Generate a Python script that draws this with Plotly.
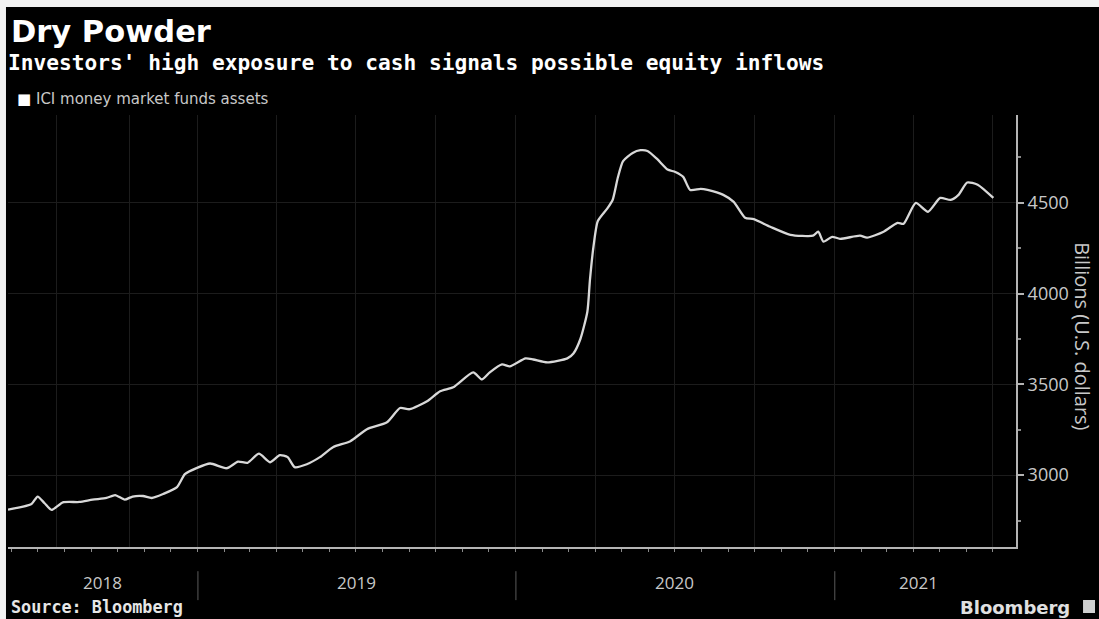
import plotly.graph_objects as go

# ICI money market funds assets, billions of U.S. dollars (weekly readings)
dates = [
    "2018-05-28", "2018-06-24", "2018-07-01", "2018-07-09", "2018-07-17", "2018-07-30",
    "2018-08-18", "2018-09-02", "2018-09-18", "2018-09-28", "2018-10-09", "2018-10-18",
    "2018-10-30", "2018-11-09", "2018-11-22", "2018-12-08", "2018-12-17", "2018-12-31",
    "2019-01-15", "2019-02-03", "2019-02-16", "2019-02-27", "2019-03-12", "2019-03-25",
    "2019-04-05", "2019-04-14", "2019-04-22", "2019-05-06", "2019-05-21", "2019-06-05",
    "2019-06-25", "2019-07-14", "2019-08-06", "2019-08-21", "2019-09-01", "2019-09-21",
    "2019-10-06", "2019-10-21", "2019-11-13", "2019-11-23", "2019-12-02", "2019-12-16",
    "2019-12-25", "2020-01-12", "2020-01-21", "2020-02-06", "2020-02-29", "2020-03-07",
    "2020-03-15", "2020-03-23", "2020-03-26", "2020-03-30", "2020-04-04", "2020-04-15",
    "2020-04-21", "2020-04-27", "2020-05-03", "2020-05-14", "2020-05-23", "2020-05-31",
    "2020-06-11", "2020-06-23", "2020-07-02", "2020-07-11", "2020-07-19", "2020-07-31",
    "2020-08-08", "2020-08-26", "2020-09-07", "2020-09-20", "2020-09-30", "2020-10-19",
    "2020-11-11", "2020-12-07", "2020-12-13", "2020-12-19", "2020-12-29", "2021-01-07",
    "2021-01-30", "2021-02-07", "2021-02-26", "2021-03-14", "2021-03-21", "2021-04-04",
    "2021-04-18", "2021-05-02", "2021-05-14", "2021-05-23", "2021-06-02", "2021-06-14",
    "2021-07-02",
]
assets = [
    2810, 2841, 2882, 2845, 2808, 2850,
    2852, 2865, 2874, 2890, 2865, 2882,
    2885, 2874, 2896, 2934, 3005, 3040,
    3064, 3038, 3074, 3068, 3118, 3071,
    3110, 3099, 3044, 3060, 3099, 3154,
    3187, 3253, 3291, 3370, 3363, 3407,
    3462, 3484, 3566, 3527, 3566, 3610,
    3599, 3643, 3637, 3621, 3643, 3670,
    3750, 3900, 4077, 4258, 4400, 4470,
    4516, 4640, 4730, 4775, 4790, 4786,
    4742, 4684, 4670, 4643, 4571, 4577,
    4571, 4544, 4505, 4418, 4410, 4368,
    4324, 4319, 4341, 4286, 4313, 4302,
    4319, 4308, 4341, 4390, 4385, 4500,
    4451, 4527, 4516, 4544, 4612, 4600,
    4527,
]

y_ticks = [3000, 3500, 4000, 4500]
y_tick_text = ["3000", "3500", "4000", "4500"]
grid_dates = [
    "2018-07-23", "2018-10-15", "2019-01-01", "2019-04-01", "2019-07-01", "2019-10-01",
    "2020-01-01", "2020-04-01", "2020-07-01", "2020-10-01", "2021-01-01", "2021-04-01",
    "2021-07-01",
]
year_labels = ["2018", "2019", "2020", "2021"]
year_label_dates = ["2018-09-14", "2019-07-02", "2020-07-01", "2021-04-07"]
year_breaks = ["2019-01-01", "2020-01-01", "2021-01-01"]

BG = "#000000"
LINE = "#d8d8d8"
AXIS = "#b4b4b4"
TEXT = "#c8c8c8"
GRID = "#1c1c1c"

fig = go.Figure()
fig.add_trace(go.Scatter(
    x=dates, y=assets, mode="lines",
    line=dict(color=LINE, width=2.3, shape="spline", smoothing=0.6),
    name="ICI money market funds assets", showlegend=False,
    hoverinfo="x+y",
))

fig.update_layout(
    width=1099, height=619,
    margin=dict(l=8, r=83, t=115, b=72),
    paper_bgcolor=BG, plot_bgcolor=BG,
    showlegend=False,
    xaxis=dict(
        type="date",
        range=["2018-05-28", "2021-07-28"],
        tickmode="array", tickvals=grid_dates, showticklabels=False,
        ticks="", showgrid=True, gridcolor=GRID, gridwidth=1,
        showline=True, linecolor=AXIS, linewidth=1.5,
        zeroline=False,
        minor=dict(ticks="outside", ticklen=3, tickwidth=1, tickcolor="#8a8a8a",
                   dtick="M1", tick0="2018-06-01", showgrid=False),
    ),
    yaxis=dict(
        side="right",
        range=[2604, 4984],
        tickmode="array", tickvals=y_ticks, ticktext=y_tick_text,
        tickfont=dict(family="Open Sans", size=18, color=TEXT),
        ticks="outside", ticklen=6, tickwidth=2, tickcolor=AXIS,
        showgrid=True, gridcolor=GRID, gridwidth=1,
        showline=True, linecolor=AXIS, linewidth=2,
        zeroline=False,
        minor=dict(ticks="outside", ticklen=3, tickwidth=1.5, tickcolor="#8a8a8a",
                   tickvals=[2750, 3250, 3750, 4250, 4750], showgrid=False),
    ),
)

annotations = [
    dict(text="Dry Powder", xref="paper", yref="paper", x=0.001, y=1.194,
         xanchor="left", yanchor="middle", showarrow=False,
         font=dict(family="DejaVu Sans", size=30.5, color="#ffffff", weight="bold")),
    dict(text="Investors' high exposure to cash signals possible equity inflows",
         xref="paper", yref="paper", x=-0.002, y=1.1204,
         xanchor="left", yanchor="middle", showarrow=False,
         font=dict(family="DejaVu Sans Mono", size=21.2, color="#ffffff", weight="bold")),
    dict(text="<span style='color:#ffffff'>■</span> ICI money market funds assets",
         xref="paper", yref="paper", x=0.007, y=1.037,
         xanchor="left", yanchor="middle", showarrow=False,
         font=dict(family="DejaVu Sans", size=15, color=TEXT)),
    dict(text="Billions (U.S. dollars)", xref="paper", yref="paper",
         x=1.0665, y=0.488, xanchor="center", yanchor="middle", textangle=90,
         showarrow=False, font=dict(family="Open Sans", size=20, color=TEXT)),
    dict(text="Source: Bloomberg", xref="paper", yref="paper", x=0.001, y=-0.139,
         xanchor="left", yanchor="middle", showarrow=False,
         font=dict(family="DejaVu Sans Mono", size=16.8, color="#e6e6e6", weight="bold")),
    dict(text="Bloomberg", xref="paper", yref="paper", x=1.0556, y=-0.139,
         xanchor="right", yanchor="middle", showarrow=False,
         font=dict(family="DejaVu Sans", size=18, color="#e0e0e0", weight="bold")),
]
for label, d in zip(year_labels, year_label_dates):
    annotations.append(dict(
        text=label, xref="x", yref="paper", x=d, y=-0.083,
        xanchor="center", yanchor="middle", showarrow=False,
        font=dict(family="Open Sans", size=17, color=TEXT)))
fig.update_layout(annotations=annotations)

shapes = []
for d in year_breaks:
    shapes.append(dict(type="line", xref="x", yref="paper", x0=d, x1=d,
                       y0=-0.056, y1=-0.123, line=dict(color="#5a5a5a", width=1)))
# Bloomberg badge next to the logo text
shapes.append(dict(type="rect", xref="paper", yref="paper",
                   x0=1.0665, x1=1.0784, y0=-0.1528, y1=-0.1227,
                   fillcolor="#d0d0d0", line=dict(width=0)))
# light frame strips along the top and left edges of the canvas
shapes.append(dict(type="rect", xref="paper", yref="paper",
                   x0=-0.0085, x1=1.09, y0=1.2500, y1=1.27,
                   fillcolor="#f2f2f2", line=dict(width=0)))
shapes.append(dict(type="rect", xref="paper", yref="paper",
                   x0=-0.0085, x1=-0.002, y0=-0.17, y1=1.27,
                   fillcolor="#f2f2f2", line=dict(width=0)))
fig.update_layout(shapes=shapes)

fig.write_html("out.html")
